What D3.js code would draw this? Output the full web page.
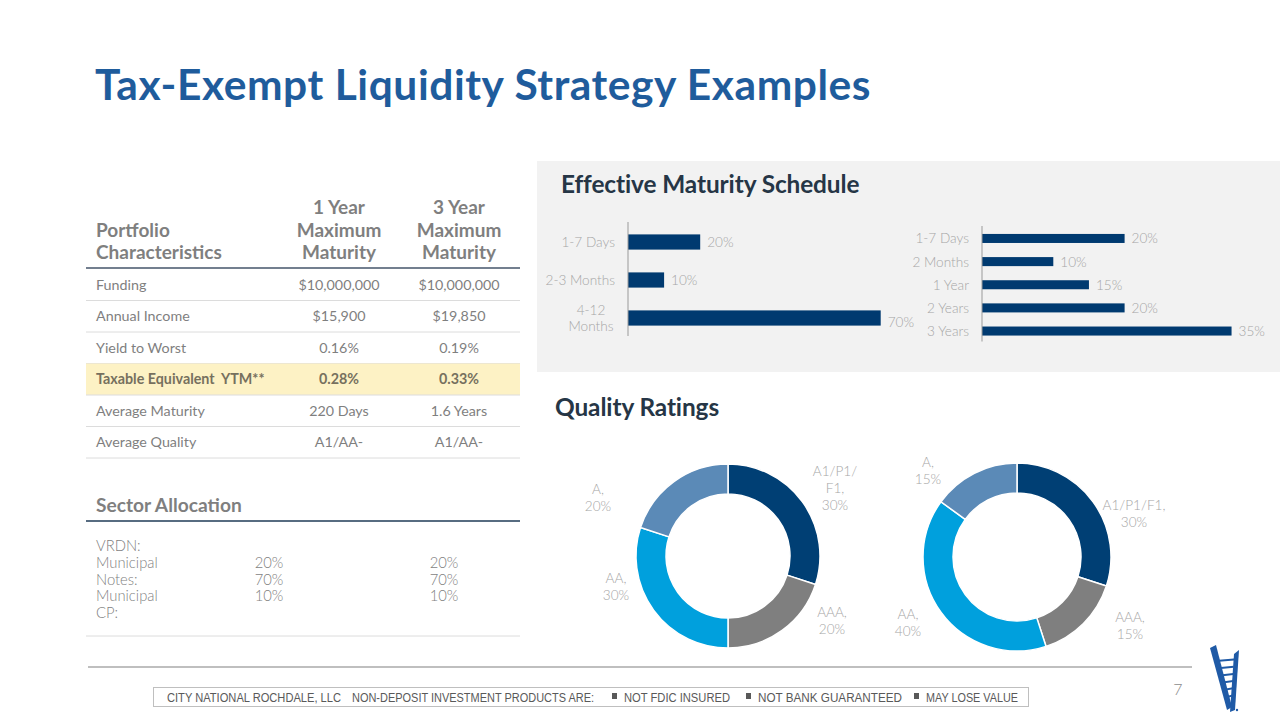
<!DOCTYPE html>
<html>
<head>
<meta charset="utf-8">
<script src="https://cdn.jsdelivr.net/npm/d3@7"></script>
<style>
  html, body { margin: 0; padding: 0; background: #ffffff; }
  svg { display: block; font-family: Lato, "Open Sans", sans-serif; }
  text { white-space: pre; }
</style>
</head>
<body>
<svg id="chart" width="1280" height="720"></svg>
<script>
// ---------- DATA ----------
const titleText = "Tax-Exempt Liquidity Strategy Examples";
const tableHeaderLeft = ["Portfolio", "Characteristics"];
const tableColumns = [["1 Year", "Maximum", "Maturity"], ["3 Year", "Maximum", "Maturity"]];
const tableRows = ["Funding", "Annual Income", "Yield to Worst", "Taxable Equivalent  YTM**", "Average Maturity", "Average Quality"];
const oneYearValues = ["$10,000,000", "$15,900", "0.16%", "0.28%", "220 Days", "A1/AA-"];
const threeYearValues = ["$10,000,000", "$19,850", "0.19%", "0.33%", "1.6 Years", "A1/AA-"];
const highlightRow = "Taxable Equivalent  YTM**";

const sectorLabels = ["VRDN:", "Municipal", "Notes:", "Municipal", "CP:"];
const sectorOneYear = ["", "20%", "70%", "10%", ""];
const sectorThreeYear = ["", "20%", "70%", "10%", ""];

const maturity1Categories = ["1-7 Days", "2-3 Months", "4-12 Months"];
const maturity1Values = [20, 10, 70];
const maturity2Categories = ["1-7 Days", "2 Months", "1 Year", "2 Years", "3 Years"];
const maturity2Values = [20, 10, 15, 20, 35];

const qualityCategories = ["A1/P1/F1", "AAA", "AA", "A"];
const quality1Values = [30, 20, 30, 20];
const quality2Values = [30, 15, 40, 15];
const quality1LabelLines = [["A1/P1/", "F1,"], ["AAA,"], ["AA,"], ["A,"]];
const quality2LabelLines = [["A1/P1/F1,"], ["AAA,"], ["AA,"], ["A,"]];

const footerParts = ["CITY NATIONAL ROCHDALE, LLC", "NON-DEPOSIT INVESTMENT PRODUCTS ARE:", "NOT FDIC INSURED", "NOT BANK GUARANTEED", "MAY LOSE VALUE"];
const pageNumber = "7";

// ---------- STYLE ----------
const C = {
  title: "#1f5c9c",
  heading: "#263646",
  grey: "#7f7f7f",
  light: "#a6a6a6",
  bar: "#003a70",
  panel: "#f2f2f2",
  highlight: "#fdf2c5",
  donut: ["#003f74", "#7f7f7f", "#00a0dd", "#5b8ab7"]
};
const LBL = 13.6;

const svg = d3.select("#chart");

// Title
svg.append("text").attr("x", 95).attr("y", 100)
  .attr("font-size", 42.5).attr("font-weight", 700).attr("fill", C.title)
  .attr("letter-spacing", 0.55)
  .text(titleText);

// ---------- TABLE ----------
const tbl = svg.append("g");
const tableX0 = 86, tableX1 = 520;
const colX = d3.scalePoint().domain([0, 1]).range([339, 459]);
tableHeaderLeft.forEach((t, i) => {
  tbl.append("text").attr("x", 96).attr("y", 237 + i * 22)
    .attr("font-size", 19).attr("font-weight", 700).attr("fill", C.grey).text(t);
});
tableColumns.forEach((lines, c) => {
  lines.forEach((t, i) => {
    tbl.append("text").attr("x", colX(c)).attr("y", 214 + i * 22.5)
      .attr("text-anchor", "middle").attr("font-size", 19).attr("font-weight", 700)
      .attr("fill", C.grey).text(t);
  });
});
tbl.append("line").attr("x1", tableX0).attr("x2", tableX1).attr("y1", 268).attr("y2", 268)
  .attr("stroke", "#44546a").attr("stroke-width", 1.5);

const rowY = d3.scaleBand().domain(tableRows).range([269, 458]);
tableRows.forEach((r, i) => {
  const y0 = rowY(r), h = rowY.bandwidth();
  const hl = r === highlightRow;
  if (hl) tbl.append("rect").attr("x", tableX0).attr("y", y0).attr("width", tableX1 - tableX0).attr("height", h).attr("fill", C.highlight);
  tbl.append("line").attr("x1", tableX0).attr("x2", tableX1).attr("y1", y0 + h).attr("y2", y0 + h)
    .attr("stroke", "#dcdcdc").attr("stroke-width", 1);
  const cy = y0 + h / 2 + 5;
  const fw = hl ? 700 : 400;
  const fc = hl ? "#76705e" : C.grey;
  const fs = 14.3;
  tbl.append("text").attr("x", 96).attr("y", cy).attr("font-size", fs).attr("font-weight", fw).attr("fill", fc).text(r);
  tbl.append("text").attr("x", colX(0)).attr("y", cy).attr("text-anchor", "middle").attr("font-size", fs).attr("font-weight", fw).attr("fill", fc).text(oneYearValues[i]);
  tbl.append("text").attr("x", colX(1)).attr("y", cy).attr("text-anchor", "middle").attr("font-size", fs).attr("font-weight", fw).attr("fill", fc).text(threeYearValues[i]);
});

// Sector allocation
svg.append("text").attr("x", 96).attr("y", 512).attr("font-size", 19.2).attr("font-weight", 700).attr("fill", C.grey).text("Sector Allocation");
svg.append("line").attr("x1", tableX0).attr("x2", tableX1).attr("y1", 521).attr("y2", 521).attr("stroke", "#1f3b57").attr("stroke-width", 1.5);
const secY = d3.scalePoint().domain(d3.range(sectorLabels.length)).range([551, 618]);
sectorLabels.forEach((t, i) => {
  svg.append("text").attr("x", 96).attr("y", secY(i)).attr("font-size", 14.8).attr("font-weight", 300).attr("fill", C.grey).text(t);
  svg.append("text").attr("x", 269).attr("y", secY(i)).attr("text-anchor", "middle").attr("font-size", 14.8).attr("font-weight", 300).attr("fill", C.grey).text(sectorOneYear[i]);
  svg.append("text").attr("x", 444).attr("y", secY(i)).attr("text-anchor", "middle").attr("font-size", 14.8).attr("font-weight", 300).attr("fill", C.grey).text(sectorThreeYear[i]);
});
svg.append("line").attr("x1", tableX0).attr("x2", tableX1).attr("y1", 636).attr("y2", 636).attr("stroke", "#dcdcdc").attr("stroke-width", 1);

// ---------- MATURITY PANEL ----------
svg.append("rect").attr("x", 537).attr("y", 161).attr("width", 743).attr("height", 211).attr("fill", C.panel);
svg.append("text").attr("x", 561).attr("y", 193).attr("font-size", 24.4).attr("font-weight", 700).attr("fill", C.heading)
  .attr("letter-spacing", -0.1).text("Effective Maturity Schedule");

function barChart(cats, vals, opts) {
  const g = svg.append("g");
  const x = d3.scaleLinear().domain([0, 100]).range([opts.x0, opts.x0 + opts.pxPer * 100]);
  const y = d3.scaleBand().domain(cats).range([opts.y0, opts.y1]).paddingInner(opts.pad).paddingOuter(0.3);
  g.selectAll("rect").data(cats).join("rect")
    .attr("x", x(0)).attr("y", d => y(d)).attr("height", y.bandwidth())
    .attr("width", (d, i) => x(vals[i]) - x(0)).attr("fill", C.bar);
  g.append("line").attr("x1", x(0)).attr("x2", x(0)).attr("y1", opts.y0 - 1).attr("y2", opts.y1 - 1)
    .attr("stroke", "#9a9a9a").attr("stroke-width", 1);
  g.selectAll("text.val").data(cats).join("text").attr("class", "val")
    .attr("x", (d, i) => x(vals[i]) + 7).attr("y", d => y(d) + y.bandwidth() / 2 + 5 + (opts.valShift ? opts.valShift(d) : 0))
    .attr("font-size", LBL).attr("font-weight", 300).attr("fill", C.light)
    .text((d, i) => vals[i] + "%");
  cats.forEach(c => {
    const words = opts.wrap && opts.wrap[c] ? opts.wrap[c] : null;
    const cy = y(c) + y.bandwidth() / 2;
    if (words) {
      words.forEach((w, k) => {
        g.append("text").attr("x", x(0) - 37).attr("y", cy + 5 + (k - (words.length - 1) / 2) * 16.5)
          .attr("text-anchor", "middle").attr("font-size", LBL).attr("font-weight", 300).attr("fill", C.light).text(w);
      });
    } else {
      g.append("text").attr("x", x(0) - 13).attr("y", cy + 5)
        .attr("text-anchor", "end").attr("font-size", LBL).attr("font-weight", 300).attr("fill", C.light).text(c);
    }
  });
}
barChart(maturity1Categories, maturity1Values, {
  x0: 628, pxPer: 3.61, y0: 223, y1: 337, pad: 0.6,
  wrap: { "4-12 Months": ["4-12", "Months"] },
  valShift: d => d === "4-12 Months" ? 4 : 0
});
barChart(maturity2Categories, maturity2Values, {
  x0: 982, pxPer: 7.13, y0: 227, y1: 342.5, pad: 0.61
});

// ---------- QUALITY DONUTS ----------
svg.append("text").attr("x", 555).attr("y", 416).attr("font-size", 24.4).attr("font-weight", 700).attr("fill", C.heading)
  .attr("letter-spacing", -0.1).text("Quality Ratings");

const pie = d3.pie().sort(null).value(d => d);
function donut(vals, lineSets, cx, cy, rOuter, rInner, labelOffsets) {
  const g = svg.append("g").attr("transform", `translate(${cx},${cy})`);
  const arc = d3.arc().innerRadius(rInner).outerRadius(rOuter);
  const arcs = pie(vals);
  g.selectAll("path").data(arcs).join("path")
    .attr("d", arc).attr("fill", (d, i) => C.donut[i])
    .attr("stroke", "#ffffff").attr("stroke-width", 1.5);
  arcs.forEach((a, i) => {
    const lines = lineSets[i].concat([vals[i] + "%"]);
    const [lx, ly] = labelOffsets[i];
    lines.forEach((t, k) => {
      g.append("text").attr("x", lx).attr("y", ly + 5 + (k - (lines.length - 1) / 2) * 17)
        .attr("text-anchor", "middle").attr("font-size", LBL).attr("font-weight", 300)
        .attr("fill", C.light).text(t);
    });
  });
}
donut(quality1Values, quality1LabelLines, 728, 556, 92, 62,
  [[107, -68], [104, 64], [-112, 30], [-130, -59]]);
donut(quality2Values, quality2LabelLines, 1017, 557, 94, 64,
  [[117, -44], [113, 68], [-109, 65], [-89, -87]]);

// ---------- FOOTER ----------
svg.append("line").attr("x1", 88).attr("x2", 1192).attr("y1", 667).attr("y2", 667).attr("stroke", "#808080").attr("stroke-width", 1.2);
svg.append("rect").attr("x", 153.5).attr("y", 687.5).attr("width", 875).attr("height", 19)
  .attr("fill", "#ffffff").attr("stroke", "#bfbfbf").attr("stroke-width", 1);
const footerX = [167, 352, 624, 758, 926];
const footerW = [174, 242, 106, 144, 92];
footerParts.forEach((t, i) => {
  svg.append("text").attr("x", footerX[i]).attr("y", 701.5)
    .attr("font-family", "'Liberation Sans Narrow', 'Liberation Sans', Arial, sans-serif")
    .attr("font-size", 12).attr("fill", "#595959")
    .attr("textLength", footerW[i]).attr("lengthAdjust", "spacingAndGlyphs").text(t);
  if (i >= 2) svg.append("rect").attr("x", footerX[i] - 12).attr("y", 693).attr("width", 5).attr("height", 6).attr("fill", "#595959");
});
svg.append("text").attr("x", 1178).attr("y", 695).attr("text-anchor", "middle").attr("font-size", 16).attr("font-weight", 300).attr("fill", "#8c8c8c").text(pageNumber);

// Logo (ladder)
const logo = svg.append("g").attr("fill", "#1f5aa6");
logo.append("path").attr("d", "M1210,648 L1216,645 L1232,707 L1227,710 Z");
logo.append("path").attr("d", "M1234,654 L1239,650 L1235,710 L1230,712 Z");
d3.range(7).forEach(k => {
  const y = 660 + k * 7.2;
  logo.append("path").attr("d", `M${1216 + k * 2.2},${y} L${1234 - k * 0.3},${y - 1.5} L${1234 - k * 0.3},${y + 0.5} L${1216 + k * 2.2},${y + 2} Z`);
});
logo.append("circle").attr("cx", 1237).attr("cy", 710).attr("r", 1.2);
</script>
</body>
</html>
